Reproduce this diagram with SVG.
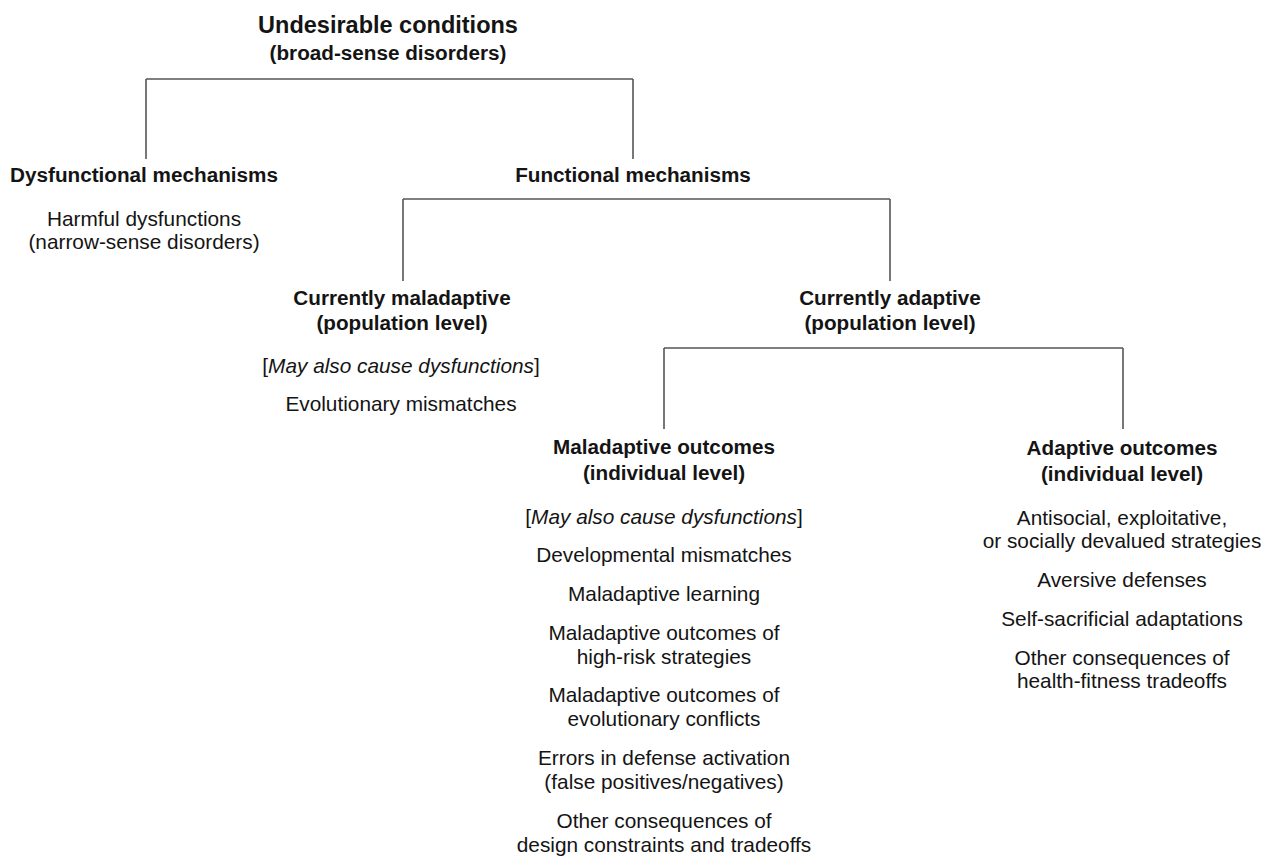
<svg xmlns="http://www.w3.org/2000/svg" width="1261" height="857" viewBox="0 0 1261 857">
<style>
text{font-family:"Liberation Sans",Arial,Helvetica,sans-serif;fill:#141414;text-anchor:middle;font-size:20.8px}
.b{font-weight:bold;font-size:20.7px}
.t{font-weight:bold;font-size:23.5px}
.conn line{stroke:#555;stroke-width:1.6;fill:none}
</style>
<rect width="1261" height="857" fill="#fff"/>
<g class="conn" id="connectors">
<line x1="146" y1="79" x2="633" y2="79"/>
<line x1="146" y1="79" x2="146" y2="159"/>
<line x1="633" y1="79" x2="633" y2="159"/>
<line x1="403" y1="199" x2="890" y2="199"/>
<line x1="403" y1="199" x2="403" y2="281"/>
<line x1="890" y1="199" x2="890" y2="281"/>
<line x1="664" y1="348" x2="1123" y2="348"/>
<line x1="664" y1="348" x2="664" y2="429"/>
<line x1="1123" y1="348" x2="1123" y2="429"/>
</g>
<g id="root">
<text class="t" x="388" y="33">Undesirable conditions</text>
<text class="b" x="388" y="60">(broad-sense disorders)</text>
</g>
<g id="dysfunctional">
<text class="b" x="144" y="182">Dysfunctional mechanisms</text>
<text x="144" y="226">Harmful dysfunctions</text>
<text x="144" y="249">(narrow-sense disorders)</text>
</g>
<g id="functional">
<text class="b" x="633" y="182">Functional mechanisms</text>
</g>
<g id="currently-maladaptive">
<text class="b" x="402" y="305">Currently maladaptive</text>
<text class="b" x="402" y="330">(population level)</text>
<text x="401" y="373">[<tspan font-style="italic">May also cause dysfunctions</tspan>]</text>
<text x="401" y="411">Evolutionary mismatches</text>
</g>
<g id="currently-adaptive">
<text class="b" x="890" y="305">Currently adaptive</text>
<text class="b" x="890" y="330">(population level)</text>
</g>
<g id="maladaptive-outcomes">
<text class="b" x="664" y="454">Maladaptive outcomes</text>
<text class="b" x="664" y="480">(individual level)</text>
<text x="664" y="524">[<tspan font-style="italic">May also cause dysfunctions</tspan>]</text>
<text x="664" y="562">Developmental mismatches</text>
<text x="664" y="601">Maladaptive learning</text>
<text x="664" y="640">Maladaptive outcomes of</text>
<text x="664" y="664">high-risk strategies</text>
<text x="664" y="702">Maladaptive outcomes of</text>
<text x="664" y="726">evolutionary conflicts</text>
<text x="664" y="765">Errors in defense activation</text>
<text x="664" y="789">(false positives/negatives)</text>
<text x="664" y="828">Other consequences of</text>
<text x="664" y="852">design constraints and tradeoffs</text>
</g>
<g id="adaptive-outcomes">
<text class="b" x="1122" y="455">Adaptive outcomes</text>
<text class="b" x="1122" y="481">(individual level)</text>
<text x="1122" y="525">Antisocial, exploitative,</text>
<text x="1122" y="548">or socially devalued strategies</text>
<text x="1122" y="587">Aversive defenses</text>
<text x="1122" y="626">Self-sacrificial adaptations</text>
<text x="1122" y="665">Other consequences of</text>
<text x="1122" y="688">health-fitness tradeoffs</text>
</g>
</svg>
